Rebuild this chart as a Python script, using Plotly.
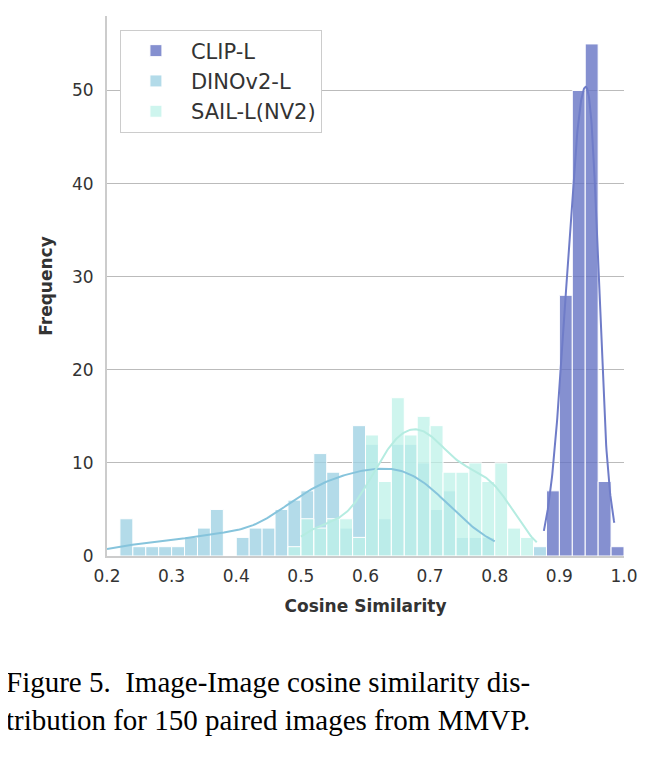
import numpy as np
import plotly.graph_objects as go

# bin left edges (width 0.02) and counts
bin_width = 0.02

clip_bins = [0.88, 0.90, 0.92, 0.94, 0.96, 0.98]
clip_counts = [7, 28, 50, 55, 8, 1]

dino_bins = [0.22, 0.24, 0.26, 0.28, 0.30, 0.32, 0.34, 0.36, 0.40, 0.42, 0.44, 0.46, 0.48,
             0.50, 0.52, 0.54, 0.56, 0.58, 0.60, 0.62, 0.64, 0.66, 0.68, 0.70, 0.72, 0.74,
             0.76, 0.78, 0.86]
dino_counts = [4, 1, 1, 1, 1, 2, 3, 5, 2, 3, 3, 5, 6,
               7, 11, 9, 3, 14, 12, 4, 12, 12, 10, 5, 7, 2,
               2, 2, 1]

sail_bins = [0.48, 0.50, 0.52, 0.54, 0.56, 0.58, 0.60, 0.62, 0.64, 0.66, 0.68, 0.70,
             0.72, 0.74, 0.76, 0.78, 0.80, 0.82, 0.84]
sail_counts = [1, 4, 3, 4, 4, 2, 13, 8, 17, 13, 15, 14,
               9, 9, 10, 8, 10, 3, 2]

x_ticks = [0.2, 0.3, 0.4, 0.5, 0.6, 0.7, 0.8, 0.9, 1.0]


def kde_curve(bins, counts, lo, hi):
    # gaussian kde on bin centres, scaled to counts per bin
    c = np.array(bins) + bin_width / 2
    w = np.array(counts, dtype=float)
    n = w.sum()
    mean = (c * w).sum() / n
    std = np.sqrt((w * (c - mean) ** 2).sum() / n)
    bw = max(std * n ** (-0.2), 0.012)
    xs = np.linspace(lo, hi, 200)
    dens = (w[None, :] * np.exp(-0.5 * ((xs[:, None] - c[None, :]) / bw) ** 2)).sum(1)
    dens = dens / (n * bw * np.sqrt(2 * np.pi))
    return xs, dens * n * bin_width


series = [
    ('CLIP-L', clip_bins, clip_counts, 'rgba(102,116,196,0.8)', '#6f7cc8', (0.876, 0.985)),
    ('DINOv2-L', dino_bins, dino_counts, 'rgba(160,210,228,0.8)', '#86c4dc', (0.2, 0.8)),
    ('SAIL-L(NV2)', sail_bins, sail_counts, 'rgba(190,242,232,0.75)', '#b5ece1', (0.5, 0.865)),
]

fig = go.Figure()
for name, bins, counts, fill, line, (lo, hi) in series:
    fig.add_trace(go.Bar(x=np.array(bins) + bin_width / 2, y=counts, width=bin_width, name=name,
                         marker=dict(color=fill, line=dict(color='white', width=1))))
for name, bins, counts, fill, line, (lo, hi) in series:
    xs, ys = kde_curve(bins, counts, lo, hi)
    fig.add_trace(go.Scatter(x=xs, y=ys, mode='lines', line=dict(color=line, width=2),
                             showlegend=False, hoverinfo='skip'))

fig.update_layout(
    width=660, height=758, barmode='overlay', plot_bgcolor='white', paper_bgcolor='white',
    margin=dict(l=99, r=44, t=8, b=210),
    font=dict(family='DejaVu Sans', size=17, color='#333'),
    legend=dict(x=0.025, y=0.975, xanchor='left', yanchor='top', bordercolor='#ccc', borderwidth=1,
                font=dict(size=21, color='#333'), bgcolor='white', tracegroupgap=6,
                itemwidth=60),
    annotations=[
        dict(text='Figure 5.  Image-Image cosine similarity dis-<br>tribution for 150 paired images from MMVP.',
             xref='paper', yref='paper', x=-0.2, y=-0.2, xanchor='left', yanchor='top', align='left',
             showarrow=False, font=dict(family='Liberation Serif', size=29, color='black')),
    ],
)
fig.update_xaxes(range=[0.2, 1.0], tickvals=x_ticks, ticktext=[f'{v:.1f}' for v in x_ticks],
                 showgrid=False, showline=True, linecolor='#ccc', linewidth=2, ticks='',
                 ticklabelstandoff=4,
                 title=dict(text='<b>Cosine Similarity</b>', font=dict(size=17)))
fig.update_yaxes(range=[0, 58], tickvals=[0, 10, 20, 30, 40, 50], showgrid=True, gridcolor='#bbb',
                 showline=True, linecolor='#ccc', linewidth=2, zeroline=False, ticks='',
                 ticklabelstandoff=8,
                 title=dict(text='<b>Frequency</b>', font=dict(size=17)))

fig.write_html('out.html')
